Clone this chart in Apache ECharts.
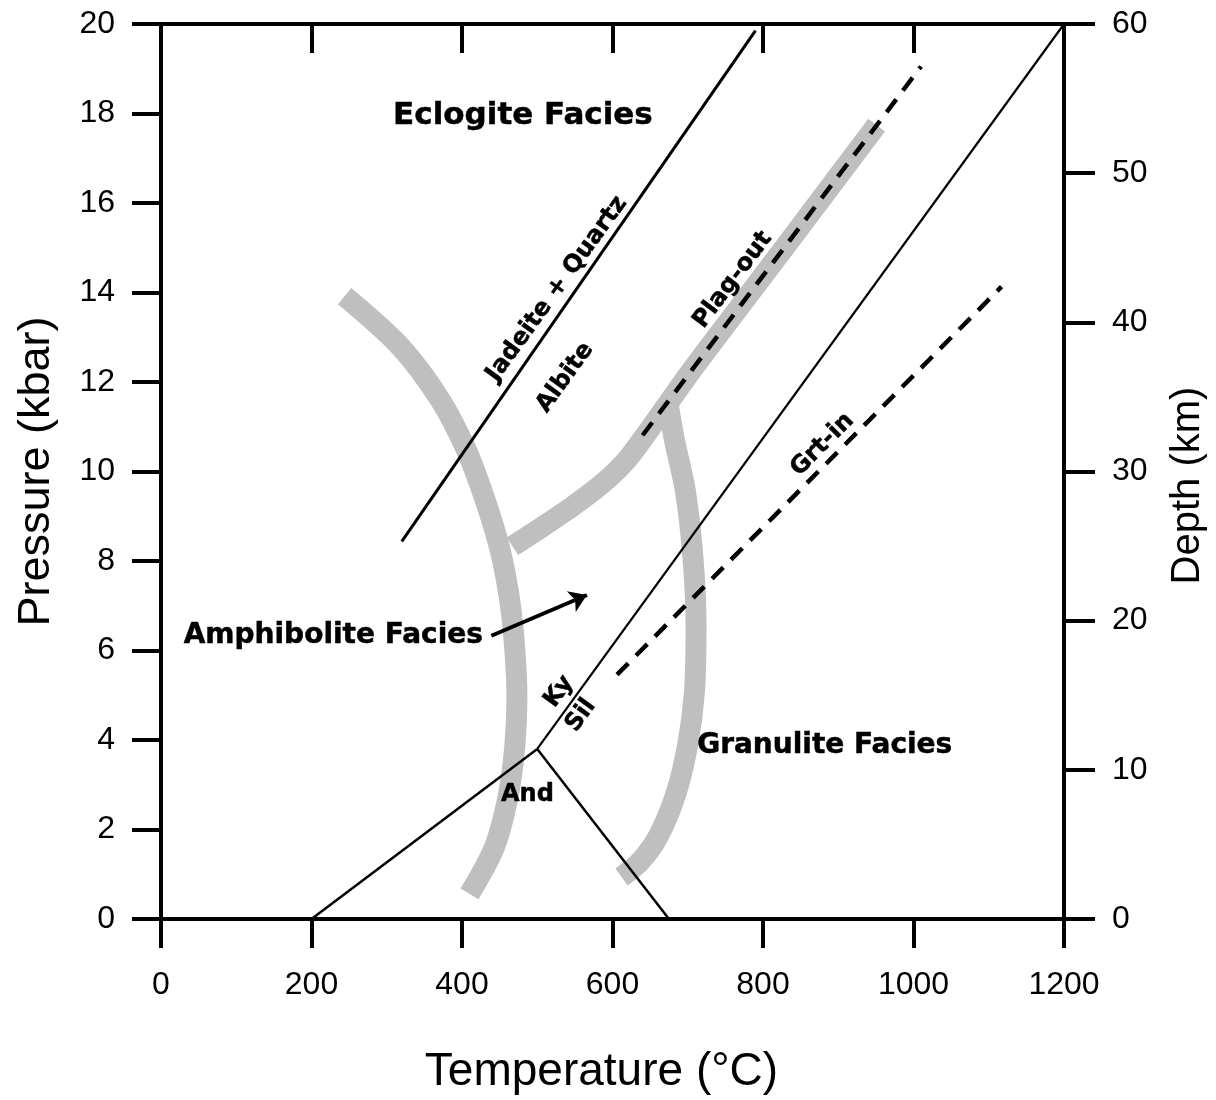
<!DOCTYPE html>
<html><head><meta charset="utf-8">
<script src="https://cdn.jsdelivr.net/npm/echarts@6/dist/echarts.min.js"></script>
<style>html,body{margin:0;padding:0;background:#fff}#c{width:1216px;height:1100px}</style>
</head><body><div id="c"></div>
<script>
// ---- data (temperature °C, pressure kbar) ----
const leftBand   = [[244,13.92],[317,12.81],[370,11.63],[405,10.51],[430,9.40],[450,8.29],[463,7.17],[470,6.06],[473,4.94],[470,3.83],[461,2.72],[443,1.60],[410,0.56]];
const middleBand = [[467,8.33],[510,8.80],[550,9.26],[590,9.78],[620,10.28],[650,10.96],[706,12.28],[764,13.57],[831,15.06],[891,16.40],[951,17.74]];
const rightBand  = [[674,11.50],[682,10.73],[697,9.55],[707,8.06],[711,6.57],[709,5.10],[700,3.90],[684,2.78],[660,1.82],[636,1.27],[612,0.94]];
const jadeiteLine = [[320,8.44],[790,19.85]];
const kySilLine   = [[500,3.8],[1200,20]];
const andKyLine   = [[200,0],[500,3.8]];
const andSilLine  = [[500,3.8],[675,0]];
const plagOutLine = [[640,10.81],[1010,19.05]];
const grtInLine   = [[606,5.46],[1117,14.13]];
const amphArrow   = [[439,6.33],[566,7.24]];

const labelTexts   = ['Eclogite Facies','Jadeite + Quartz','Albite','Plag-out','Grt-in','Amphibolite Facies','Ky','Sil','And','Granulite Facies'];
const labelAnchors = [[481,17.95],[526,14.08],[537,12.10],[760,14.28],[879,10.60],[229,6.32],[529,5.08],[558,4.55],[487,2.78],[882,3.87]];

const tempRange = [0,1200,200];
const presRange = [0,20,2];
const depthRange = [0,60,10];

// ---- styles ----
const labelRot  = [0,54,54,53,45,0,54,54,0,0];
const labelSize = [31,24,24,24,24,28,24,24,24,28];
const ink = '#000000';
const band = '#bfbfbf';
const tickFont = 'Liberation Sans, Arial, sans-serif';
const noteFont = 'DejaVu Sans, sans-serif';

const chart = echarts.init(document.getElementById('c'), null, {renderer:'canvas'});

function tickLabel(margin){
  return {color:ink, fontSize:32, fontFamily:tickFont, margin, formatter:v=>String(v)};
}
function axisBase(extra){
  return Object.assign({
    type:'value', splitLine:{show:false},
    axisLine:{onZero:false, lineStyle:{color:ink, width:4}},
    axisTick:{length:29, lineStyle:{color:ink, width:4}},
    axisLabel:tickLabel(48)
  }, extra);
}

function solid(data, w){
  return {type:'line', data, showSymbol:false, symbol:'none', z:5, silent:true,
    lineStyle:{color:ink, width:w}};
}
function dashed(data){
  return {type:'line', data, showSymbol:false, symbol:'none', z:6, silent:true,
    lineStyle:{color:ink, width:4.5, type:[16,11]}};
}
function bandS(data){
  return {type:'line', data, showSymbol:false, symbol:'none', smooth:0.3, z:2, silent:true,
    lineStyle:{color:band, width:21, cap:'butt'}};
}

const option = {
  animation:false,
  backgroundColor:'#fff',
  grid:{left:161, right:151, top:24, bottom:178, containLabel:false},
  xAxis:[
    axisBase({min:tempRange[0], max:tempRange[1], interval:tempRange[2], position:'bottom',
      name:'Temperature (°C)', nameLocation:'middle', nameGap:130,
      nameTextStyle:{color:ink, fontSize:46, fontFamily:tickFont, padding:[0,22,0,0]},
      axisLabel:tickLabel(50)}),
    axisBase({min:tempRange[0], max:tempRange[1], interval:tempRange[2], position:'top',
      axisTick:{inside:true, length:29, lineStyle:{color:ink, width:4}},
      axisLabel:{show:false}})
  ],
  yAxis:[
    axisBase({min:presRange[0], max:presRange[1], interval:presRange[2], position:'left',
      name:'Pressure (kbar)', nameLocation:'middle', nameGap:102, nameRotate:90,
      nameTextStyle:{color:ink, fontSize:45, fontFamily:tickFont},
      axisLabel:tickLabel(46)}),
    axisBase({min:depthRange[0], max:depthRange[1], interval:depthRange[2], position:'right',
      name:'Depth (km)', nameLocation:'middle', nameGap:104, nameRotate:90,
      nameTextStyle:{color:ink, fontSize:40, fontFamily:tickFont, padding:[0,28,0,0]},
      axisTick:{length:31, lineStyle:{color:ink, width:4}},
      axisLabel:tickLabel(48)})
  ],
  series:[
    bandS(leftBand), bandS(middleBand), bandS(rightBand),
    solid(jadeiteLine, 3), solid(kySilLine, 2.2), solid(andKyLine, 2.5), solid(andSilLine, 2.5),
    dashed(plagOutLine), dashed(grtInLine),
    {type:'lines', coordinateSystem:'cartesian2d', z:6, silent:true,
     symbol:['none','arrow'], symbolSize:[0,17],
     lineStyle:{color:ink, width:4, opacity:1},
     data:[{coords:amphArrow}]},
    {type:'scatter', z:10, silent:true, symbolSize:1,
     itemStyle:{color:'rgba(255,255,255,0)', opacity:1},
     label:{show:true, position:'inside', color:ink, opacity:1, fontWeight:'bold', fontFamily:noteFont,
       textBorderColor:ink, textBorderWidth:0.5, align:'center', verticalAlign:'middle',
       formatter:p=>p.name},
     data: labelTexts.map((t,i)=>({name:t, value:labelAnchors[i],
       label:{rotate:labelRot[i], fontSize:labelSize[i]}}))}
  ]
};
chart.setOption(option);
</script></body></html>
